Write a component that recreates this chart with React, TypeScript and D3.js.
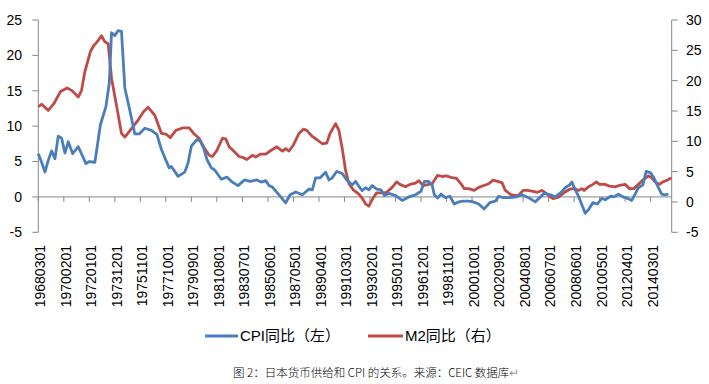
import * as d3 from "d3"

// months counted from 1968-03 (index 0) to 2015-10 (index 571)
const lastMonth = 571

// CPI year-on-year, left axis: [month index, %]
const cpi: [number, number][] = [
  [0, 6.1], [3, 4.9], [6, 3.5], [9, 5.2], [12, 6.5], [15, 5.4], [18, 8.6], [21, 8.3],
  [24, 6.2], [27, 7.8], [31, 6.1], [36, 7.1], [43, 4.7], [46, 5.0], [51, 4.9], [56, 10.2],
  [61, 12.8], [64, 16.1], [66, 23.2], [69, 22.8], [72, 23.5], [75, 23.4], [78, 15.4], [82, 12.6],
  [87, 8.9], [91, 8.9], [96, 9.7], [102, 9.4], [107, 8.8], [111, 6.7], [115, 5.2], [118, 4.1],
  [120, 4.3], [126, 2.9], [132, 3.5], [135, 4.8], [138, 7.2], [143, 8.1], [146, 7.9], [149, 6.9],
  [152, 5.3], [156, 4.1], [159, 3.8], [165, 2.5], [170, 2.8], [174, 2.2], [180, 1.6], [186, 2.4],
  [191, 2.2], [197, 2.4], [201, 2.1], [205, 2.3], [208, 1.6], [211, 1.4], [217, 0.3], [223, -0.85],
  [227, 0.3], [232, 0.7], [238, 0.3], [244, 1.1], [247, 1.0], [250, 2.7], [254, 2.7], [259, 3.5],
  [262, 2.4], [265, 2.7], [269, 3.6], [274, 3.3], [278, 2.4], [283, 1.7], [286, 2.2], [289, 1.5],
  [292, 0.9], [295, 1.3], [298, 1.0], [301, 1.6], [305, 1.1], [309, 1.0], [312, 0.2], [316, 0.5],
  [322, 0.2], [328, -0.5], [334, 0], [340, 0.3], [345, 0.8], [348, 2.2], [352, 2.2], [355, 1.7],
  [357, 0.3], [360, -0.15], [363, 0.4], [367, -0.1], [371, 0.1], [375, -1.0], [379, -0.7], [383, -0.6],
  [388, -0.6], [392, -0.7], [397, -1.0], [402, -1.7], [407, -0.8], [412, -0.6], [415, 0.1], [419, -0.1],
  [425, -0.1], [431, 0.0], [436, 0.3], [439, 0.1], [443, -0.2], [448, -0.7], [452, -0.1], [456, 0.5],
  [462, 0.3], [466, 0], [471, 0.6], [475, 1.3], [479, 1.7], [481, 2.1], [484, 1.0], [487, 0.1],
  [490, -1.1], [493, -2.3], [496, -1.8], [500, -0.8], [504, -1.0], [508, -0.2], [511, -0.4], [516, 0.1],
  [519, 0], [523, 0.4], [527, 0], [531, -0.2], [535, -0.5], [538, 0.4], [541, 1.3], [545, 1.7],
  [548, 3.6], [552, 3.4], [555, 2.7], [559, 1.3], [562, 0.4], [565, 0.3], [568, 0.4],
]

// M2 year-on-year, right axis: [month index, %]
const m2: [number, number][] = [
  [0, 15.7], [3, 16.1], [9, 15.1], [14, 16.2], [20, 18.2], [26, 18.8], [30, 18.4], [36, 17.3],
  [39, 18.4], [42, 21.5], [47, 24.8], [50, 25.8], [53, 26.4], [57, 27.4], [60, 26.4], [63, 26.1],
  [66, 20.4], [71, 15.4], [75, 11.3], [78, 10.7], [84, 12.1], [90, 13.5], [95, 14.9], [99, 15.6],
  [105, 14.3], [111, 11.3], [115, 11.2], [119, 10.6], [124, 11.8], [130, 12.2], [136, 12.2], [140, 11.3],
  [145, 10.5], [149, 9.1], [154, 7.7], [157, 7.5], [161, 8.5], [166, 10.5], [169, 10.4], [172, 9.1],
  [175, 8.6], [181, 7.5], [185, 7.3], [188, 7.0], [193, 7.7], [196, 7.4], [200, 7.9], [205, 7.9],
  [209, 8.4], [215, 9.1], [220, 8.4], [223, 8.8], [226, 8.4], [230, 9.4], [235, 11.3], [239, 12.0],
  [242, 11.8], [247, 10.8], [251, 10.3], [256, 9.6], [260, 9.7], [263, 11.3], [268, 12.9], [271, 11.8],
  [274, 8.8], [277, 5.2], [280, 3.0], [284, 2.0], [289, 1.3], [292, 0.6], [295, -0.3], [298, -0.7],
  [302, 0.7], [305, 1.5], [310, 1.5], [314, 1.6], [319, 2.4], [323, 3.3], [326, 2.9], [331, 2.5],
  [335, 2.9], [340, 3.1], [343, 3.5], [347, 2.7], [352, 2.9], [355, 3.0], [360, 4.4], [364, 4.2],
  [368, 4.3], [373, 4.0], [377, 3.9], [381, 3.0], [384, 2.2], [388, 2.2], [393, 1.9], [397, 2.4],
  [403, 2.8], [406, 3.0], [410, 3.6], [414, 3.4], [418, 3.2], [421, 1.9], [426, 1.2], [429, 1.1],
  [433, 1.1], [437, 1.9], [441, 1.9], [445, 1.8], [450, 1.6], [454, 1.9], [458, 1.4], [461, 0.9],
  [464, 0.55], [469, 0.8], [475, 1.65], [479, 2.1], [484, 2.2], [487, 1.9], [490, 2.2], [492, 1.9],
  [496, 2.5], [500, 2.9], [503, 3.3], [506, 2.9], [511, 2.9], [515, 2.6], [520, 2.5], [524, 2.75],
  [529, 2.9], [533, 2.2], [537, 2.2], [541, 2.9], [545, 3.6], [550, 4.3], [553, 4.0], [556, 3.3],
  [560, 2.9], [563, 3.3], [567, 3.6], [570, 3.9], [571, 3.9],
]

const leftTicks = [-5, 0, 5, 10, 15, 20, 25]
const rightTicks = [-5, 0, 5, 10, 15, 20, 25, 30]
const labelStep = 23
const dateLabels = [
  "19680301", "19700201", "19720101", "19731201", "19751101", "19771001", "19790901",
  "19810801", "19830701", "19850601", "19870501", "19890401", "19910301", "19930201",
  "19950101", "19961201", "19981101", "20001001", "20020901", "20040801", "20060701",
  "20080601", "20100501", "20120401", "20140301",
]

const blue = "#4a7ebb"
const red = "#be4b48"
const axisColor = "#868686"
const font = "'Liberation Sans', 'Noto Sans CJK SC', sans-serif"

export default function App() {
  const x = d3.scaleLinear().domain([0, lastMonth]).range([38.3, 671.7])
  const yL = d3.scaleLinear().domain([-5, 25]).range([232.3, 20])
  const yR = d3.scaleLinear().domain([-5, 30]).range([232.3, 20])

  const cpiLine = d3.line<[number, number]>().x((d) => x(d[0])).y((d) => yL(d[1]))
  const m2Line = d3.line<[number, number]>().x((d) => x(d[0])).y((d) => yR(d[1]))

  const zeroY = yL(0)

  return (
    <svg
      width={709}
      height={384}
      style={{ position: "absolute", left: 0, top: 0, background: "#fff" }}
      fontFamily={font}
    >
      {/* left axis */}
      <line x1={x(0)} x2={x(0)} y1={yL(-5)} y2={yL(25)} stroke={axisColor} />
      {leftTicks.map((t) => (
        <g key={"l" + t}>
          <line x1={x(0) - 6} x2={x(0)} y1={yL(t)} y2={yL(t)} stroke={axisColor} />
          <text x={22} y={yL(t)} dy="0.35em" textAnchor="end" fontSize={14} fill="#000">
            {t}
          </text>
        </g>
      ))}

      {/* right axis */}
      <line x1={x(lastMonth)} x2={x(lastMonth)} y1={yR(-5)} y2={yR(30)} stroke={axisColor} />
      {rightTicks.map((t) => (
        <g key={"r" + t}>
          <line x1={x(lastMonth)} x2={x(lastMonth) + 6} y1={yR(t)} y2={yR(t)} stroke={axisColor} />
          <text x={686} y={yR(t)} dy="0.35em" textAnchor="start" fontSize={14} fill="#000">
            {t}
          </text>
        </g>
      ))}

      {/* category axis on zero line */}
      <line x1={x(0)} x2={x(lastMonth)} y1={zeroY} y2={zeroY} stroke={axisColor} />
      {dateLabels.map((lab, i) => (
        <line
          key={"t" + lab}
          x1={x(i * labelStep)}
          x2={x(i * labelStep)}
          y1={zeroY}
          y2={zeroY + 5}
          stroke={axisColor}
        />
      ))}
      {dateLabels.map((lab, i) => (
        <text
          key={lab}
          transform={`translate(${x(i * labelStep) + 2},245) rotate(-90)`}
          dy="0.35em"
          textAnchor="end"
          fontSize={14}
          fill="#000"
        >
          {lab}
        </text>
      ))}

      {/* series */}
      <path d={m2Line(m2) ?? ""} fill="none" stroke={red} strokeWidth={2.8} strokeLinejoin="round" />
      <path d={cpiLine(cpi) ?? ""} fill="none" stroke={blue} strokeWidth={2.8} strokeLinejoin="round" />

      {/* legend */}
      <line x1={205} x2={238} y1={336} y2={336} stroke={blue} strokeWidth={2.8} />
      <text x={240} y={336} dy="0.35em" fontSize={15} fill="#000">
        CPI同比（左）
      </text>
      <line x1={368} x2={403} y1={336} y2={336} stroke={red} strokeWidth={2.8} />
      <text x={405} y={336} dy="0.35em" fontSize={15} fill="#000">
        M2同比（右）
      </text>

      {/* caption */}
      <text
        x={233}
        y={373}
        dy="0.35em"
        fontSize={11.5}
        fill="#000"
        fontWeight={300}
        fontFamily="'Noto Sans CJK SC', sans-serif"
      >
        图 2：日本货币供给和 CPI 的关系。来源：CEIC 数据库
        <tspan fill="#999">↵</tspan>
      </text>
    </svg>
  )
}
